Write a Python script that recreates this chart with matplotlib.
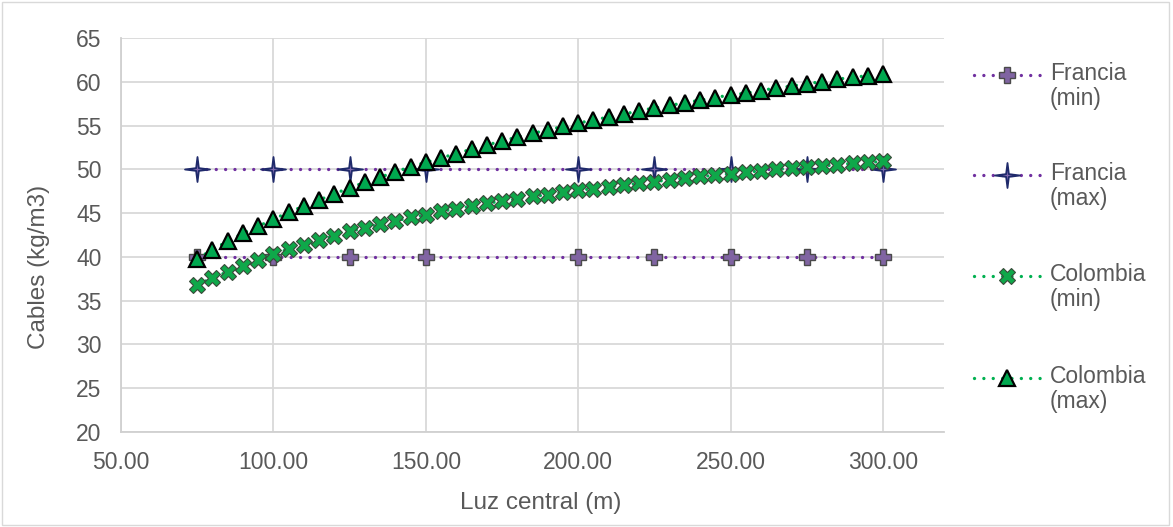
import numpy as np
import matplotlib
matplotlib.use("Agg")
import matplotlib.pyplot as plt
from matplotlib.path import Path
from matplotlib.lines import Line2D

plt.rcParams['font.family'] = ['Liberation Sans', 'DejaVu Sans']

# Francia values (no point at 175)
fr_x = [75, 100, 125, 150, 200, 225, 250, 275, 300]
fr_min = [40, 40, 40, 40, 40, 40, 40, 40, 40]
fr_max = [50, 50, 50, 50, 50, 50, 50, 50, 50]

# Colombia values, every 5 m
co_x = list(range(75, 305, 5))
co_min = [36.8, 37.6, 38.3, 39.0, 39.7, 40.3, 40.9, 41.4, 41.9, 42.4,
          42.9, 43.3, 43.7, 44.1, 44.5, 44.8, 45.2, 45.5, 45.8, 46.1,
          46.4, 46.6, 46.9, 47.1, 47.4, 47.6, 47.8, 48.0, 48.2, 48.4,
          48.6, 48.8, 49.0, 49.2, 49.3, 49.5, 49.7, 49.8, 50.0, 50.1,
          50.3, 50.4, 50.5, 50.7, 50.8, 50.9]
co_max = [39.8, 40.8, 41.8, 42.7, 43.5, 44.3, 45.1, 45.8, 46.5, 47.2,
          47.9, 48.5, 49.1, 49.7, 50.3, 50.8, 51.3, 51.8, 52.3, 52.8,
          53.2, 53.7, 54.1, 54.5, 54.9, 55.3, 55.6, 56.0, 56.3, 56.7,
          57.0, 57.3, 57.6, 57.9, 58.2, 58.5, 58.7, 59.0, 59.3, 59.5,
          59.8, 60.0, 60.3, 60.5, 60.7, 60.9]

labels = ['Francia\n(min)', 'Francia\n(max)', 'Colombia\n(min)', 'Colombia\n(max)']

purple = '#7030A0'
green = '#00B050'
txt = '#595959'

# 4 point star marker
k = 0.11
star = Path([(0, 1), (k, k), (1, 0), (k, -k), (0, -1),
             (-k, -k), (-1, 0), (-k, k), (0, 1)],
            [Path.MOVETO] + [Path.LINETO] * 7 + [Path.CLOSEPOLY])

dots = dict(linestyle=(0, (0.01, 2.8)), dash_capstyle='round', linewidth=2.4)
styles = [
    dict(color=purple, marker='P', markersize=11.5, markerfacecolor='#8064A2',
         markeredgecolor='#4A4A4A', markeredgewidth=1.0, **dots),
    dict(color=purple, marker=star, markersize=18, markerfacecolor='#7F6AB0',
         markeredgecolor='#1F2A6B', markeredgewidth=1.3, **dots),
    dict(color=green, marker='X', markersize=11.5, markerfacecolor='#0FA84A',
         markeredgecolor='#3A4A3A', markeredgewidth=0.8, **dots),
    dict(color=green, marker='^', markersize=11, markerfacecolor='#00A84F',
         markeredgecolor='black', markeredgewidth=1.6, **dots),
]

fig = plt.figure(figsize=(11.73, 5.27), dpi=100)
ax = fig.add_axes([121 / 1173, 1 - 432 / 527, (944 - 121) / 1173, (432 - 38) / 527])

series = [(fr_x, fr_min), (fr_x, fr_max), (co_x, co_min), (co_x, co_max)]
for (xs, ys), st in zip(series, styles):
    ax.plot(xs, ys, **st)

ax.set_xlim(50, 320)
ax.set_ylim(20, 65)
ax.set_xticks(np.arange(50, 301, 50))
ax.set_xticklabels([f'{v:.2f}' for v in np.arange(50, 301, 50)])
ax.set_yticks(np.arange(20, 66, 5))
ax.grid(True, color='#D9D9D9', linewidth=1.3)
ax.set_axisbelow(True)
for s in ['top', 'right']:
    ax.spines[s].set_visible(False)
for s in ['left', 'bottom']:
    ax.spines[s].set_color('#D0D0D0')
    ax.spines[s].set_linewidth(1.3)
ax.tick_params(length=0, labelsize=16.5, labelcolor=txt)
ax.tick_params(axis='y', pad=14)
ax.tick_params(axis='x', pad=14)
ax.set_xlabel('Luz central (m)', fontsize=17.5, color=txt)
ax.set_ylabel('Cables (kg/m3)', fontsize=17.5, color=txt)
ax.xaxis.set_label_coords(0.51, -0.152)
ax.yaxis.set_label_coords(-0.086, 0.42)

# legend drawn by hand, marker aligned with first text line
leg_y = [75, 175, 276, 378]
for yy, lab, st in zip(leg_y, labels, styles):
    yf = 1 - yy / 527
    st2 = dict(st)
    st2['markevery'] = [1]
    fig.add_artist(Line2D([974 / 1173, 1007 / 1173, 1042 / 1173], [yf] * 3,
                          transform=fig.transFigure, **st2))
    fig.text(1050 / 1173, yf + 13 / 527, lab, ha='left', va='top',
             fontsize=16.5, color=txt, linespacing=1.1)

# outer frame
fig.add_artist(plt.Rectangle((0.002, 0.003), 0.995, 0.993, transform=fig.transFigure,
                             fill=False, edgecolor='#D9D9D9', linewidth=1))

fig.savefig('out.png', dpi=100)
